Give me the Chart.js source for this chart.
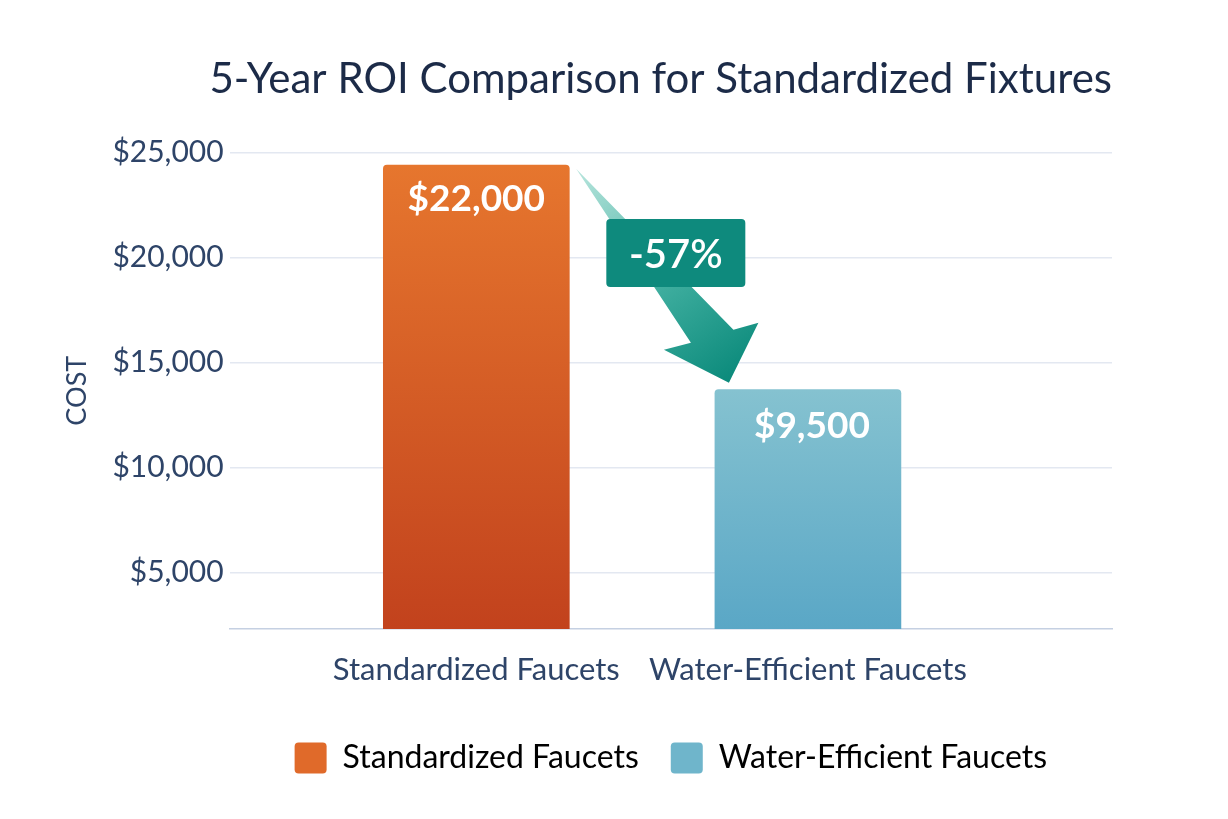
<!DOCTYPE html>
<html>
<head>
<meta charset="utf-8">
<script src="https://cdn.jsdelivr.net/npm/chart.js@4.4.1/dist/chart.umd.min.js"></script>
<style>
  html, body { margin: 0; padding: 0; background: #ffffff; }
  #wrap { width: 1228px; height: 819px; }
</style>
</head>
<body>
<div id="wrap"><canvas id="roiChart" width="1228" height="819"></canvas></div>
<script>
// Data
const categories = ["Standardized Faucets", "Water-Efficient Faucets"];
const barHeights = [24400, 13700];          // bar tops as drawn against the axis
const valueLabels = ["$22,000", "$9,500"];   // printed inside the bars
const changeLabel = "-57%";
const yTicks = [5000, 10000, 15000, 20000, 25000];

const fillTop = ["#e6762e", "#85c2d0"];
const fillBottom = ["#c2421d", "#5aa7c6"];
const legendFill = ["#e06a2a", "#6fb5cb"];

const textColor = "#2e4468";
const fontFamily = "Lato, 'Open Sans', sans-serif";

function barGradient(i) {
  return (ctx) => {
    const chart = ctx.chart;
    if (!chart.chartArea) return fillTop[i];
    const y = chart.scales.y;
    const g = chart.ctx.createLinearGradient(0, y.getPixelForValue(barHeights[i]), 0, y.getPixelForValue(y.min));
    g.addColorStop(0, fillTop[i]);
    g.addColorStop(1, fillBottom[i]);
    return g;
  };
}

// Value labels, arrow and percentage badge
const annotations = {
  id: "annotations",
  afterDatasetsDraw(chart) {
    const ctx = chart.ctx;
    const b1 = chart.getDatasetMeta(0).data[0];
    const b2 = chart.getDatasetMeta(1).data[0];

    ctx.save();
    ctx.fillStyle = "#ffffff";
    ctx.font = "bold 37px " + fontFamily;
    ctx.textAlign = "center";
    ctx.textBaseline = "middle";
    ctx.fillText(valueLabels[0], b1.x, b1.y + 34);
    ctx.fillText(valueLabels[1], b2.x + 4, b2.y + 36);

    // arrow from bar 1 down to bar 2
    const T = { x: b1.x + b1.width / 2 + 7, y: b1.y + 4 };
    const P = { x: b2.x - b2.width / 2 + 14, y: b2.y - 7 };
    const g = ctx.createLinearGradient(T.x, T.y, P.x, P.y);
    g.addColorStop(0, "rgba(170,224,214,0.85)");
    g.addColorStop(0.55, "#3fae9f");
    g.addColorStop(1, "#0b8a7b");
    ctx.fillStyle = g;
    ctx.beginPath();
    ctx.moveTo(T.x, T.y);
    ctx.lineTo(P.x + 4.5, P.y - 53);
    ctx.lineTo(P.x + 29.5, P.y - 60);
    ctx.lineTo(P.x, P.y);
    ctx.lineTo(P.x - 65, P.y - 33);
    ctx.lineTo(P.x - 38, P.y - 40);
    ctx.closePath();
    ctx.fill();

    // badge
    const cx = T.x + 99.5, cy = T.y + 84;
    const w = 139, h = 68;
    ctx.fillStyle = "#0e8a7d";
    ctx.beginPath();
    ctx.roundRect(cx - w / 2, cy - h / 2, w, h, 4);
    ctx.fill();
    ctx.fillStyle = "#ffffff";
    ctx.font = "600 40px " + fontFamily;
    ctx.fillText(changeLabel, cx, cy + 2);
    ctx.restore();
  }
};

new Chart(document.getElementById("roiChart"), {
  type: "bar",
  data: {
    datasets: categories.map((name, i) => ({
      label: name,
      data: [{ x: i, y: barHeights[i] }],
      backgroundColor: barGradient(i),
      borderRadius: 4,
      borderSkipped: false,
      barThickness: 186,
      grouped: false
    }))
  },
  options: {
    responsive: false,
    animation: false,
    layout: { padding: { left: 57, right: 116, top: 38, bottom: 35 } },
    plugins: {
      title: {
        display: true,
        text: "5-Year ROI Comparison for Standardized Fixtures",
        align: "end",
        color: "#1c2b48",
        font: { family: fontFamily, size: 42, weight: "normal" },
        padding: { top: 16, bottom: 48 }
      },
      legend: {
        position: "bottom",
        fullSize: false,
        labels: {
          color: "#1f3354",
          font: { family: fontFamily, size: 32 },
          boxWidth: 32,
          boxHeight: 31,
          useBorderRadius: true,
          borderRadius: 4,
          padding: 32,
          generateLabels: () => categories.map((name, i) => ({
            text: name,
            fillStyle: legendFill[i],
            strokeStyle: legendFill[i],
            lineWidth: 0,
            datasetIndex: i,
            borderRadius: 4
          }))
        }
      },
      tooltip: { enabled: false }
    },
    scales: {
      x: {
        type: "linear",
        offset: false,
        bounds: "data",
        min: -0.744,
        max: 1.917,
        afterBuildTicks: (scale) => { scale.ticks = categories.map((_, i) => ({ value: i })); },
        ticks: {
          color: textColor,
          font: { family: fontFamily, size: 31, lineHeight: 1 },
          padding: 25,
          callback: (v) => categories[v]
        },
        grid: { display: false, drawTicks: false },
        border: { display: true, color: "#c5d0e2", width: 1.5 }
      },
      y: {
        min: 2300,
        max: 25000,
        afterBuildTicks: (scale) => { scale.ticks = yTicks.map(v => ({ value: v })); },
        ticks: {
          color: textColor,
          font: { family: fontFamily, size: 30 },
          padding: 6,
          callback: (v) => "$" + v.toLocaleString("en-US")
        },
        grid: { color: "#e3e8f1", lineWidth: 1.5, drawTicks: false },
        border: { display: false },
        title: {
          display: true,
          text: "COST",
          color: textColor,
          font: { family: fontFamily, size: 27 },
          padding: { top: 4, bottom: 13 }
        }
      }
    }
  },
  plugins: [annotations]
});
</script>
</body>
</html>
